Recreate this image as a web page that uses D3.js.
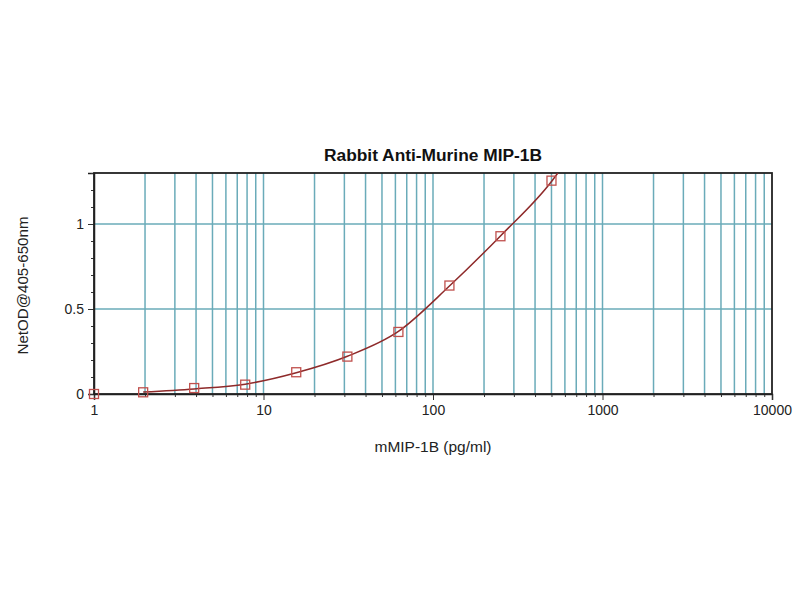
<!DOCTYPE html>
<html>
<head>
<meta charset="utf-8">
<script src="https://cdn.jsdelivr.net/npm/d3@7"></script>
<style>
  body { margin: 0; background: #fff; }
  svg { display: block; font-family: "Liberation Sans", Arial, sans-serif; }
</style>
</head>
<body>
<div id="chart"></div>
<script>
// Standard curve readings (blank plotted at the axis minimum, 1 pg/ml)
const concentrations = [1, 1.95, 3.9, 7.8, 15.6, 31.25, 62.5, 125, 250, 500];
const netOD = [0.0, 0.01, 0.035, 0.055, 0.128, 0.22, 0.365, 0.638, 0.928, 1.255];

// Fitted line (runs off the top just past 500)
const fitConc = [1.95, 3.9, 7.8, 15.6, 31.25, 62.5, 125, 250, 500, 545];
const fitOD = [0.012, 0.03, 0.058, 0.125, 0.222, 0.368, 0.635, 0.93, 1.25, 1.3];

const xTickValues = [1, 10, 100, 1000, 10000];
const yTickValues = [0, 0.5, 1];
const yMinorValues = d3.range(0, 1.31, 0.1);

const width = 800, height = 600;
const margin = { top: 173, right: 28, bottom: 206, left: 94 };
const innerWidth = width - margin.left - margin.right;
const innerHeight = height - margin.top - margin.bottom;

const svg = d3.select('#chart').append('svg')
  .attr('width', width)
  .attr('height', height);

const g = svg.append('g')
  .attr('transform', `translate(${margin.left}, ${margin.top})`);

const x = d3.scaleLog().domain([1, 10000]).range([0, innerWidth]);
const y = d3.scaleLinear().domain([0, 1.3]).range([innerHeight, 0]);

// minor decade positions 2..9 in each decade
const xMinor = [];
[1, 10, 100, 1000].forEach(d => {
  for (let k = 2; k <= 9; k++) xMinor.push(d * k);
});

const gridColor = '#6aabb9';

// Vertical grid lines
g.append('g')
  .selectAll('line')
  .data(xMinor.concat([10, 100, 1000]))
  .join('line')
  .attr('x1', d => x(d)).attr('x2', d => x(d))
  .attr('y1', 0).attr('y2', innerHeight)
  .attr('stroke', gridColor)
  .attr('stroke-width', 1.5);

// Horizontal grid lines
g.append('g')
  .selectAll('line')
  .data([0.5, 1])
  .join('line')
  .attr('x1', 0).attr('x2', innerWidth)
  .attr('y1', d => y(d)).attr('y2', d => y(d))
  .attr('stroke', gridColor)
  .attr('stroke-width', 1.5);

// Axes
g.append('g')
  .attr('transform', `translate(0, ${innerHeight})`)
  .call(d3.axisBottom(x).tickValues(xTickValues).tickFormat(d3.format('d')).tickSize(6).tickPadding(5));

g.append('g')
  .attr('transform', `translate(0, ${innerHeight})`)
  .call(d3.axisBottom(x).tickValues(xMinor).tickFormat('').tickSize(3))
  .call(a => a.select('.domain').remove())
  .call(a => a.selectAll('text').remove());

g.append('g')
  .call(d3.axisLeft(y).tickValues(yTickValues).tickFormat(d3.format('')).tickSize(6).tickPadding(4));

g.append('g')
  .call(d3.axisLeft(y).tickValues(yMinorValues).tickFormat('').tickSize(3))
  .call(a => a.select('.domain').remove())
  .call(a => a.selectAll('text').remove());

g.selectAll('.tick text')
  .attr('font-size', 14)
  .attr('fill', '#222')
  .attr('font-family', '"Liberation Sans", Arial, sans-serif');
g.selectAll('.tick line').attr('stroke', '#333');
g.selectAll('.domain').attr('stroke', '#222').attr('stroke-width', 1.5);

// Frame
g.append('rect')
  .attr('x', 0).attr('y', 0)
  .attr('width', innerWidth).attr('height', innerHeight)
  .attr('fill', 'none')
  .attr('stroke', '#222')
  .attr('stroke-width', 1.8);

// Fitted curve
const fitData = fitConc.map((c, i) => ({ c, v: fitOD[i] }));
svg.append('clipPath').attr('id', 'plot-clip')
  .append('rect').attr('width', innerWidth).attr('height', innerHeight);

g.append('path')
  .datum(fitData)
  .attr('clip-path', 'url(#plot-clip)')
  .attr('fill', 'none')
  .attr('stroke', '#8e2a2a')
  .attr('stroke-width', 1.5);

g.select('path[clip-path]')
  .attr('d', d3.line()
    .x(d => x(d.c))
    .y(d => y(d.v))
    .curve(d3.curveMonotoneX));

// Square markers
const points = concentrations.map((c, i) => ({ c, v: netOD[i] }));
const s = 9;
g.append('g')
  .selectAll('rect')
  .data(points)
  .join('rect')
  .attr('x', d => x(d.c) - s / 2)
  .attr('y', d => y(d.v) - s / 2)
  .attr('width', s).attr('height', s)
  .attr('fill', 'none')
  .attr('stroke', '#c0504d')
  .attr('stroke-width', 1.3);

// Title and axis labels
svg.append('text')
  .attr('x', margin.left + x(100))
  .attr('y', 161)
  .attr('text-anchor', 'middle')
  .attr('font-size', 16)
  .attr('font-weight', 'bold')
  .attr('fill', '#111')
  .attr('textLength', 218)
  .attr('lengthAdjust', 'spacingAndGlyphs')
  .text('Rabbit Anti-Murine MIP-1B');

svg.append('text')
  .attr('x', margin.left + x(100))
  .attr('y', 452)
  .attr('text-anchor', 'middle')
  .attr('font-size', 14)
  .attr('fill', '#222')
  .attr('textLength', 117)
  .attr('lengthAdjust', 'spacingAndGlyphs')
  .text('mMIP-1B (pg/ml)');

svg.append('text')
  .attr('transform', `translate(28, ${margin.top + innerHeight / 2 + 2}) rotate(-90)`)
  .attr('text-anchor', 'middle')
  .attr('font-size', 14)
  .attr('fill', '#222')
  .attr('textLength', 138)
  .attr('lengthAdjust', 'spacingAndGlyphs')
  .text('NetOD@405-650nm');
</script>
</body>
</html>
